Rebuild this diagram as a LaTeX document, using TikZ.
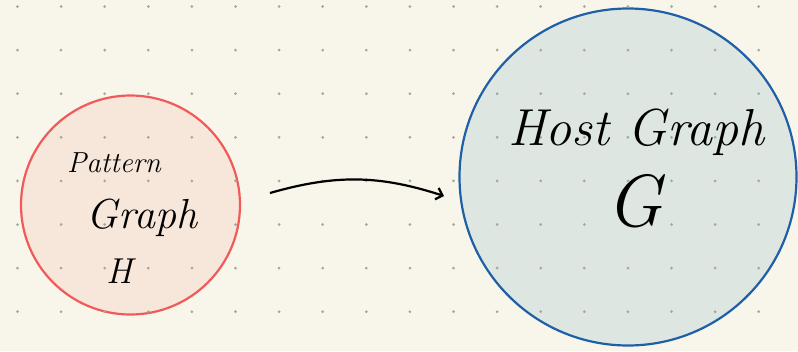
\documentclass[tikz,border=0pt]{standalone}
\usepackage{tikz}
\usepackage{xcolor}
\usetikzlibrary{arrows.meta,positioning}

\definecolor{paper}{HTML}{F8F6EA}
\definecolor{dotgray}{HTML}{A6A6A0}
\definecolor{patternfill}{HTML}{F7E6DA}
\definecolor{patternline}{HTML}{F05A5A}
\definecolor{hostfill}{HTML}{DDE6E1}
\definecolor{hostline}{HTML}{1F5FA8}

\begin{document}
\begin{tikzpicture}[x=1pt,y=1pt,
    graphcircle/.style={circle,inner sep=0pt,line width=2.2pt},
    hand/.style={anchor=base,inner sep=0pt,font=\itshape}]
    \fill[paper] (0,0) rectangle (798,-351);
    \useasboundingbox (0,0) rectangle (798,-351);

    \node[graphcircle,draw=patternline,fill=patternfill,minimum size=219pt] (pattern) at (130.5,-205) {};
    \node[graphcircle,draw=hostline,fill=hostfill,minimum size=337pt] (host) at (628,-177) {};

    % dotted paper
    \foreach \i in {0,...,17}
      \foreach \j in {0,...,7}
        \fill[dotgray] (17.5+43.6*\i,-6.5-43.6*\j) circle (1.5);

    \node[hand,font=\itshape\fontsize{29}{34}\selectfont] (patternword) at (114,-172) {Pattern};
    \node[hand,font=\itshape\fontsize{42}{48}\selectfont] (patterngraph) at (142,-228) {Graph};
    \node[hand,font=\itshape\fontsize{36}{40}\selectfont] (patternname) at (120,-283) {H};

    \node[hand,font=\itshape\fontsize{52}{60}\selectfont] (hostword) at (636,-145) {Host Graph};
    \node[hand,font=\itshape\fontsize{74}{80}\selectfont] (hostname) at (635,-226) {G};

    \coordinate (arrowstart) at (270,-193);
    \coordinate (arrowend) at (444,-196);
    \draw[line width=2.2pt,-{Straight Barb[length=6pt,width=12pt]}]
      (arrowstart) to[bend left=17] (arrowend);
\end{tikzpicture}
\end{document}
